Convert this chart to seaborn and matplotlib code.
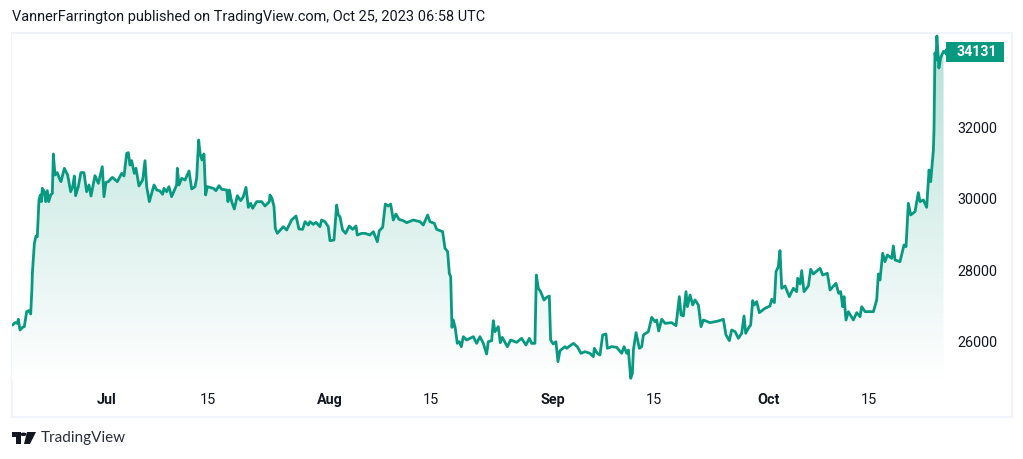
import numpy as np
import pandas as pd
import matplotlib
matplotlib.use("Agg")
import matplotlib.pyplot as plt
from matplotlib.colors import LinearSegmentedColormap
from matplotlib.patches import Polygon, Rectangle
import seaborn as sns

# days since 1 Jul 2023
days = [-13.12,-12.79,-12.47,-12.33,-12.10,-11.73,-11.50,-11.17,-10.89,-10.61,-10.43,-10.38,-10.10,-9.87,-9.69,-9.46,-9.27,-9.13,-8.99,-8.71,-8.53,-8.30,-8.11,-7.83,-7.60,-7.46,-7.23,-6.91,-6.63,-6.40,-5.93,-5.47,-5.05,-4.77,-4.54,-4.36,-3.99,-3.63,-3.20,-2.83,-2.50,-2.22,-1.67,-1.20,-0.65,-0.42,-0.14,0.19,0.74,1.44,2.04,2.37,2.74,2.97,3.20,3.43,3.80,4.03,4.45,4.96,5.29,5.52,5.89,6.21,6.54,6.91,7.37,7.74,7.93,8.30,8.62,8.99,9.69,9.78,10.02,10.39,10.85,11.41,11.78,12.24,12.47,12.75,12.94,13.21,13.49,13.72,13.96,14.79,15.16,15.58,15.95,16.65,16.83,17.02,17.34,17.71,18.13,18.59,18.96,19.33,19.66,19.98,20.26,20.82,21.51,21.98,22.58,22.67,22.95,23.23,23.41,23.69,24.52,24.99,25.68,26.29,26.70,
27.21,27.54,28.00,28.23,28.69,29.07,29.62,29.85,30.32,30.78,31.01,31.57,31.94,32.17,32.40,32.77,33.19,33.70,34.16,34.63,34.81,35.42,35.88,36.58,37.04,37.60,37.87,38.34,38.71,39.13,39.45,39.82,40.19,40.61,41.21,41.68,42.60,43.53,43.99,44.60,44.92,45.52,45.85,46.68,47.01,47.38,47.61,47.80,47.98,48.17,48.44,48.72,49.00,49.28,49.56,50.02,50.95,51.41,51.87,52.34,52.80,53.03,53.50,53.73,53.96,54.42,54.70,54.98,55.68,56.14,56.97,57.67,58.27,58.74,59.06,59.52,59.71,59.99,60.31,60.78,61.15,61.52,61.70,62.07,62.44,62.72,63.00,63.70,63.93,64.86,65.41,65.92,66.48,67.17,67.64,67.78,68.19,68.56,
68.94,69.40,69.59,70.19,70.89,71.58,71.91,72.28,72.51,72.84,73.07,73.21,73.58,74.04,74.37,74.60,75.29,75.76,76.22,76.45,76.73,77.15,77.61,78.54,79.14,79.60,79.84,80.16,80.53,80.72,81.09,81.46,81.78,82.25,82.62,82.94,83.87,85.03,85.72,86.09,86.56,86.88,87.35,87.81,88.27,88.60,88.83,89.20,89.52,89.80,90.03,90.36,90.73,91.52,92.21,92.45,92.82,93.05,93.37,93.60,93.84,94.30,94.90,95.23,95.46,95.92,96.06,96.39,96.62,96.94,97.55,97.87,98.24,99.17,99.54,100.19,100.56,101.39,101.76,102.04,102.32,102.51,102.78,103.11,103.80,104.27,104.73,104.96,105.43,106.59,107.05,107.28,107.51,107.88,108.21,108.53,109.14,109.37,109.60,110.29,110.85,111.13,111.45,111.78,112.38,112.84,113.08,113.54,114.00,114.33,114.56,114.93,115.02,115.15,115.30,115.42,115.70,115.95,116.10,116.35]

prices = [26476,26541,26523,26635,26336,26411,26430,26849,26877,26784,27548,27921,28760,28965,28947,29972,30112,29926,30298,30205,29926,30233,29926,30112,30159,31259,30671,30737,30578,30485,30858,30671,30205,30345,30643,30093,30345,30737,30737,30205,30392,30084,30653,30438,30904,30065,30466,30485,30606,30485,30718,30643,31277,31296,30951,31072,30718,30858,30364,30532,31072,30345,29926,30159,30392,30252,30224,30131,30298,30205,30345,30065,30392,30858,30392,30578,30532,30783,30280,30345,30578,31650,31277,31091,31259,30112,30345,30298,30233,30373,30270,30252,29926,30252,29926,29720,30093,29954,30065,30326,29767,29879,29739,29926,29926,29804,29926,30112,30019,29786,29180,29040,29226,29133,29413,29525,29161,
29151,29365,29272,29365,29291,29347,29225,29412,29365,29225,28834,28853,29831,29552,29505,29132,29039,29244,29151,29244,28992,29039,29039,28992,29086,28806,29114,29207,29859,29803,29859,29412,29580,29431,29393,29337,29412,29365,29272,29552,29365,29319,29151,29086,28619,28526,27920,27827,26410,26615,26382,25962,26009,25869,26149,26056,26149,25962,26149,25962,25664,26009,26037,26596,26289,26429,25981,26130,25869,26056,25990,26102,25916,26102,25962,25962,27874,27501,27407,27174,27249,27286,26056,25944,26009,25450,25757,25869,25823,25962,25869,25683,25729,25683,25590,25823,25683,25636,
26196,26224,25824,25870,25851,25684,25870,25684,25777,24984,25124,25777,26262,25824,25870,26196,26290,26690,26569,26616,26308,26635,26523,26541,26457,27269,26756,26728,27408,26989,27315,27035,27175,27035,26429,26616,26541,26588,26635,26196,26038,26336,26290,26103,26243,26728,26243,26383,26476,27157,27035,27129,26821,26942,27007,27194,27101,27968,28108,28555,27502,27567,27269,27408,27502,27408,27781,27623,27996,27408,27567,28033,27903,28061,27875,27921,27455,27641,27362,27408,26989,27269,26616,26849,26616,26821,26709,26989,26849,26849,27175,27903,27735,28481,28247,28434,28341,28686,28294,28247,28714,28667,29879,29553,29646,30177,29926,29972,29767,30811,30485,31370,31930,34083,33888,34559,33664,33944,34027,34131]

x_tick_days = [0, 14, 31, 45, 62, 76, 92, 106]
x_tick_labels = ["Jul", "15", "Aug", "15", "Sep", "15", "Oct", "15"]
y_ticks = [26000, 28000, 30000, 32000]
last_price = 34131
title = "VannerFarrington published on TradingView.com, Oct 25, 2023 06:58 UTC"
brand = "TradingView"

GREEN = "#089981"
FRAME = "#F0F3FA"
INK = "#131722"
W, H = 1023, 459

sns.set_theme(style="white")
plt.rcParams["font.family"] = ["Roboto", "DejaVu Sans"]

fig = plt.figure(figsize=(W / 100, H / 100), dpi=100, facecolor="white")


def box(l, t, r, b):
    return [l / W, 1 - b / H, (r - l) / W, (b - t) / H]


ax = fig.add_axes(box(12, 34, 944, 380))
frame = pd.DataFrame({"day": days, "price": prices})
sns.lineplot(data=frame, x="day", y="price", estimator=None, sort=False, ax=ax,
             color=GREEN, linewidth=2.0, zorder=3, solid_joinstyle="round")
ax.set_xlim(-13.21, 116.41)
ax.set_ylim(24937, 34615)

# vertical gradient area under the line
cmap = LinearSegmentedColormap.from_list("fade", ["#FFFFFF", "#B4E0D7"])
grad = np.linspace(1, 0, 256).reshape(-1, 1)
img = ax.imshow(grad, extent=[-13.21, 116.41, 24937, 34615], aspect="auto",
                cmap=cmap, vmin=0, vmax=1, zorder=1)
area = ax.fill_between(days, prices, 24937, color="none", zorder=1)
img.set_clip_path(area.get_paths()[0], transform=ax.transData)
ax.set_xlim(-13.21, 116.41)
ax.set_ylim(24937, 34615)

ax.set_xlabel("")
ax.set_ylabel("")
ax.set_xticks(x_tick_days, x_tick_labels)
for lab, txt in zip(ax.get_xticklabels(), x_tick_labels):
    lab.set_fontweight("bold" if not txt.isdigit() else "normal")
ax.yaxis.tick_right()
ax.set_yticks(y_ticks, [str(v) for v in y_ticks])
ax.tick_params(axis="x", length=0, pad=9.5, labelsize=10.4, labelcolor=INK)
ax.tick_params(axis="y", length=0, pad=9.5, labelsize=10.4, labelcolor=INK)
ax.grid(False)
for s in ax.spines.values():
    s.set_visible(False)


def fx(x):
    return x / W


def fy(y):
    return 1 - y / H


# outer frame of the widget
fig.add_artist(Rectangle((fx(12), fy(417)), 1000 / W, 384 / H, transform=fig.transFigure,
                         fill=False, edgecolor=FRAME, linewidth=1.5, zorder=0))

# last price label
fig.add_artist(Polygon([(fx(943), fy(52)), (fx(946), fy(48)), (fx(946), fy(42)), (fx(1004), fy(42)),
                        (fx(1004), fy(62)), (fx(946), fy(62)), (fx(946), fy(56))],
                       closed=True, transform=fig.transFigure, facecolor=GREEN, edgecolor="none", zorder=5))
fig.text(fx(976.5), fy(52.5), str(last_price), color="white", fontsize=10.2, fontweight="bold",
         ha="center", va="center", zorder=6)

fig.text(fx(12), fy(17), title, color=INK, fontsize=10.45, ha="left", va="center")

# brand logo
fig.add_artist(Polygon([(fx(12), fy(432)), (fx(21), fy(432)), (fx(21), fy(444)), (fx(16), fy(444)),
                        (fx(16), fy(436.5)), (fx(12), fy(436.5))],
                       closed=True, transform=fig.transFigure, facecolor=INK, edgecolor="none"))
fig.add_artist(Polygon([(fx(27), fy(432)), (fx(36), fy(432)), (fx(30), fy(444)), (fx(24), fy(444))],
                       closed=True, transform=fig.transFigure, facecolor=INK, edgecolor="none"))
fig.add_artist(plt.Circle((fx(23.5), fy(434.3)), 2.3 / W, transform=fig.transFigure, color=INK))
fig.text(fx(41), fy(438), brand, color="#2A2E39", fontsize=11, ha="left", va="center", family="Lato")

fig.savefig("out.png", dpi=100)
